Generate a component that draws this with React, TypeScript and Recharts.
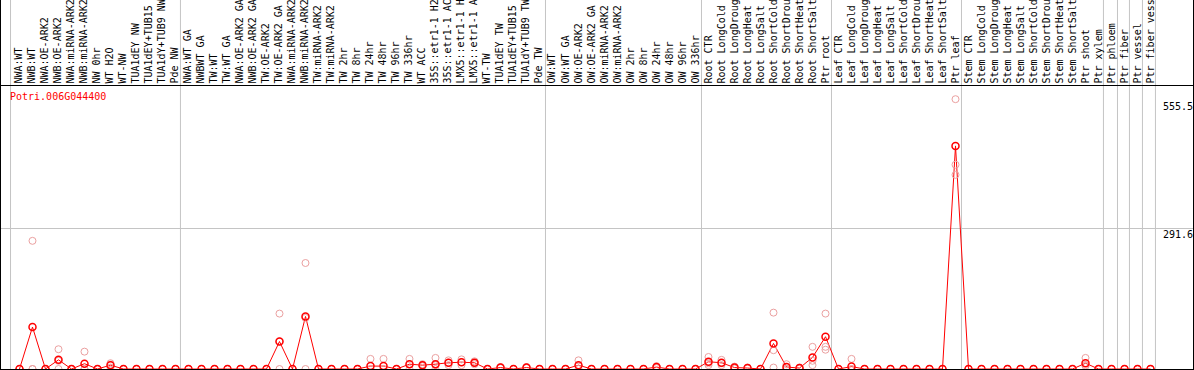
import React from "react";
import { ComposedChart, Line, Scatter, XAxis, YAxis, ReferenceLine } from "recharts";

const GENE = "Potri.006G044400";

const SAMPLES = [
  "NWA:WT", "NWB:WT", "NWA:OE-ARK2", "NWB:OE-ARK2", "NWA:miRNA-ARK2", "NWB:miRNA-ARK2",
  "NW 0hr", "WT H2O", "WT-NW", "TUA1dEY NW", "TUA1dEY+TUB15 NW", "TUA1dY+TUB9 NW", "Pde NW",
  "NWA:WT GA", "NWBWT GA", "TW:WT", "TW:WT GA", "NWA:OE-ARK2 GA", "NWB:OE-ARK2 GA",
  "TW:OE-ARK2", "TW:OE-ARK2 GA", "NWA:miRNA-ARK2", "NWB:miRNA-ARK2", "TW:miRNA-ARK2",
  "TW:miRNA-ARK2", "TW 2hr", "TW 8hr", "TW 24hr", "TW 48hr", "TW 96hr", "TW 336hr", "WT ACC",
  "35S::etr1-1 H2O", "35S::etr1-1 ACC", "LMX5::etr1-1 H2O", "LMX5::etr1-1 ACC", "WT-TW",
  "TUA1dEY TW", "TUA1dEY+TUB15 TW", "TUA1dY+TUB9 TW", "Pde TW",
  "OW:WT", "OW:WT GA", "OW:OE-ARK2", "OW:OE-ARK2 GA", "OW:miRNA-ARK2", "OW:miRNA-ARK2",
  "OW 2hr", "OW 8hr", "OW 24hr", "OW 48hr", "OW 96hr", "OW 336hr",
  "Root CTR", "Root LongCold", "Root LongDrought", "Root LongHeat", "Root LongSalt",
  "Root ShortCold", "Root ShortDrought", "Root ShortHeat", "Root ShortSalt", "Ptr root",
  "Leaf CTR", "Leaf LongCold", "Leaf LongDrought", "Leaf LongHeat", "Leaf LongSalt",
  "Leaf ShortCold", "Leaf ShortDrought", "Leaf ShortHeat", "Leaf ShortSalt", "Ptr leaf",
  "Stem CTR", "Stem LongCold", "Stem LongDrought", "Stem LongHeat", "Stem LongSalt",
  "Stem ShortCold", "Stem ShortDrought", "Stem ShortHeat", "Stem ShortSalt", "Ptr shoot",
  "Ptr xylem", "Ptr phloem", "Ptr fiber", "Ptr vessel", "Ptr fiber vessel",
];

// mean expression per sample
const MEANS = [
  0, 87, 0, 19, 0, 11, 0, 8, 0, 0, 0, 0, 0,
  0, 0, 0, 0, 0, 0, 0, 57, 0, 109, 0, 0, 0, 0, 6, 6, 0, 10, 8, 10, 13, 14, 13, 0, 3, 0, 3, 0,
  0, 0, 8, 0, 0, 0, 0, 0, 4, 0, 0, 0,
  15, 13, 3, 2, 0, 53, 4, 2, 24, 67,
  0, 5, 0, 0, 0, 0, 0, 0, 0, 463,
  0, 0, 0, 0, 0, 0, 0, 0, 0, 12,
  0, 0, 0, 0, 0,
];

// individual replicates
const REP_A = [
  0, 266, 0, 41, 0, 36, 0, 12, 0, 0, 0, 0, 0,
  0, 0, 0, 0, 0, 0, 0, 115, 0, 220, 0, 0, 0, 0, 21, 21, 0, 21, 10, 23, 18, 20, 16, 0, 4, 0, 4, 0,
  0, 0, 18, 0, 0, 0, 0, 0, 6, 0, 0, 0,
  25, 19, 5, 3, 0, 117, 10, 3, 46, 115,
  0, 21, 0, 0, 0, 0, 0, 0, 0, 560,
  0, 0, 0, 0, 0, 0, 0, 0, 0, 23,
  0, 0, 0, 0, 0,
];
const REP_B = [
  0, 0, 0, 17, 0, 0, 0, 9, 0, 0, 0, 0, 0,
  0, 0, 0, 0, 0, 0, 0, 57, 0, 106, 0, 0, 0, 0, 0, 0, 0, 10, 8, 8, 13, 14, 13, 0, 3, 0, 3, 0,
  0, 0, 6, 0, 0, 0, 0, 0, 4, 0, 0, 0,
  12, 12, 3, 2, 0, 39, 1, 2, 17, 46,
  0, 0, 0, 0, 0, 0, 0, 0, 0, 424,
  0, 0, 0, 0, 0, 0, 0, 0, 0, 8,
  0, 0, 0, 0, 0,
];
const REP_C = [
  0, 0, 0, 0, 0, 0, 0, 3, 0, 0, 0, 0, 0,
  0, 0, 0, 0, 0, 0, 0, 0, 0, 0, 0, 0, 0, 0, 0, 0, 0, 0, 6, 0, 8, 8, 10, 0, 2, 0, 2, 0,
  0, 0, 0, 0, 0, 0, 0, 0, 2, 0, 0, 0,
  8, 8, 1, 1, 0, 3, 0, 1, 8, 40,
  0, 0, 0, 0, 0, 0, 0, 0, 0, 403,
  0, 0, 0, 0, 0, 0, 0, 0, 0, 6,
  0, 0, 0, 0, 0,
];

const Y_TICKS = [0, 291.6, 555.5];
const Y_MAX = 588.4;
// gray separators between sample groups (in sample-index units)
const GROUP_EDGES = [-0.69, 12.38, 40.46, 52.46, 62.46, 72.46, 83.38, 84.46, 85.38, 86.38, 87.38];

const X_MIN = -1.423;
const X_MAX = 87.423;
const X_FAR = 90.27; // right border of the frame
const Y_FAR = 766; // top of the label band

const FONT = "DejaVu Sans Mono";
const GRID = "#c4c4c4";

const rows = MEANS.map((m, i) => ({ i, mean: m }));
const reps = [REP_A, REP_B, REP_C].flatMap((arr) => arr.map((v, i) => ({ i, v })));

// eslint-disable-next-line @typescript-eslint/no-explicit-any
function SampleTick({ x, y, payload }: any) {
  return (
    <text
      transform={`translate(${x + 3},${y}) rotate(-90)`}
      textAnchor="start"
      fontSize={10}
      fontFamily={FONT}
      fill="#000"
    >
      {SAMPLES[payload.value]}
    </text>
  );
}

// eslint-disable-next-line @typescript-eslint/no-explicit-any
function ValueTick({ x, y, payload }: any) {
  const v = payload.value;
  return (
    <text x={x} y={v === 0 ? y - 3 : y + 9} textAnchor="start" fontSize={10} fontFamily={FONT} fill="#000">
      {v}
    </text>
  );
}

// eslint-disable-next-line @typescript-eslint/no-explicit-any
const MeanDot = (p: any) => (
  <circle key={`m${p.index}`} cx={p.cx} cy={p.cy} r={3.5} fill="none" stroke="#ff0000" strokeWidth={1.5} />
);

// eslint-disable-next-line @typescript-eslint/no-explicit-any
const RepDot = (p: any) => <circle cx={p.cx} cy={p.cy} r={3.5} fill="none" stroke="#eba0a0" strokeWidth={1} />;

export default function App() {
  return (
    <div
      style={{
        position: "relative",
        width: 1194,
        height: 370,
        boxSizing: "border-box",
        borderLeft: "1px solid #000",
        borderRight: "1px solid #000",
        borderBottom: "1px solid #000",
        background: "#fff",
        overflow: "hidden",
      }}
    >
      <style>{"body{margin:0}"}</style>
      <ComposedChart width={1192} height={369} data={rows} margin={{ top: 0, right: 0, bottom: 0, left: 0 }}>
        <XAxis
          dataKey="i"
          type="number"
          orientation="top"
          domain={[X_MIN, X_MAX]}
          allowDataOverflow
          ticks={SAMPLES.map((_, i) => i)}
          interval={0}
          height={85.5}
          tickSize={0}
          tickMargin={2}
          axisLine={false}
          tickLine={false}
          tick={<SampleTick />}
        />
        <YAxis
          orientation="right"
          type="number"
          domain={[0, Y_MAX]}
          allowDataOverflow
          ticks={Y_TICKS}
          width={37}
          tickSize={0}
          tickMargin={7}
          axisLine={false}
          tickLine={false}
          tick={<ValueTick />}
        />
        {GROUP_EDGES.map((e) => (
          <ReferenceLine
            key={e}
            segment={[{ x: e, y: 0 }, { x: e, y: Y_FAR }]}
            ifOverflow="visible"
            stroke={GRID}
          />
        ))}
        <ReferenceLine
          segment={[{ x: X_MIN, y: Y_TICKS[1] }, { x: X_FAR, y: Y_TICKS[1] }]}
          ifOverflow="visible"
          stroke={GRID}
        />
        <ReferenceLine
          segment={[{ x: X_MIN, y: Y_MAX }, { x: X_FAR, y: Y_MAX }]}
          ifOverflow="visible"
          stroke="#000"
        />
        <Scatter data={reps} dataKey="v" shape={RepDot} isAnimationActive={false} />
        <Line
          type="linear"
          dataKey="mean"
          stroke="#ff0000"
          strokeWidth={1}
          dot={MeanDot}
          activeDot={false}
          isAnimationActive={false}
        />
      </ComposedChart>
      <div
        style={{
          position: "absolute",
          left: 9,
          top: 92,
          fontFamily: FONT,
          fontSize: 10,
          lineHeight: "10px",
          color: "#ff0000",
          whiteSpace: "nowrap",
        }}
      >
        {GENE}
      </div>
    </div>
  );
}
